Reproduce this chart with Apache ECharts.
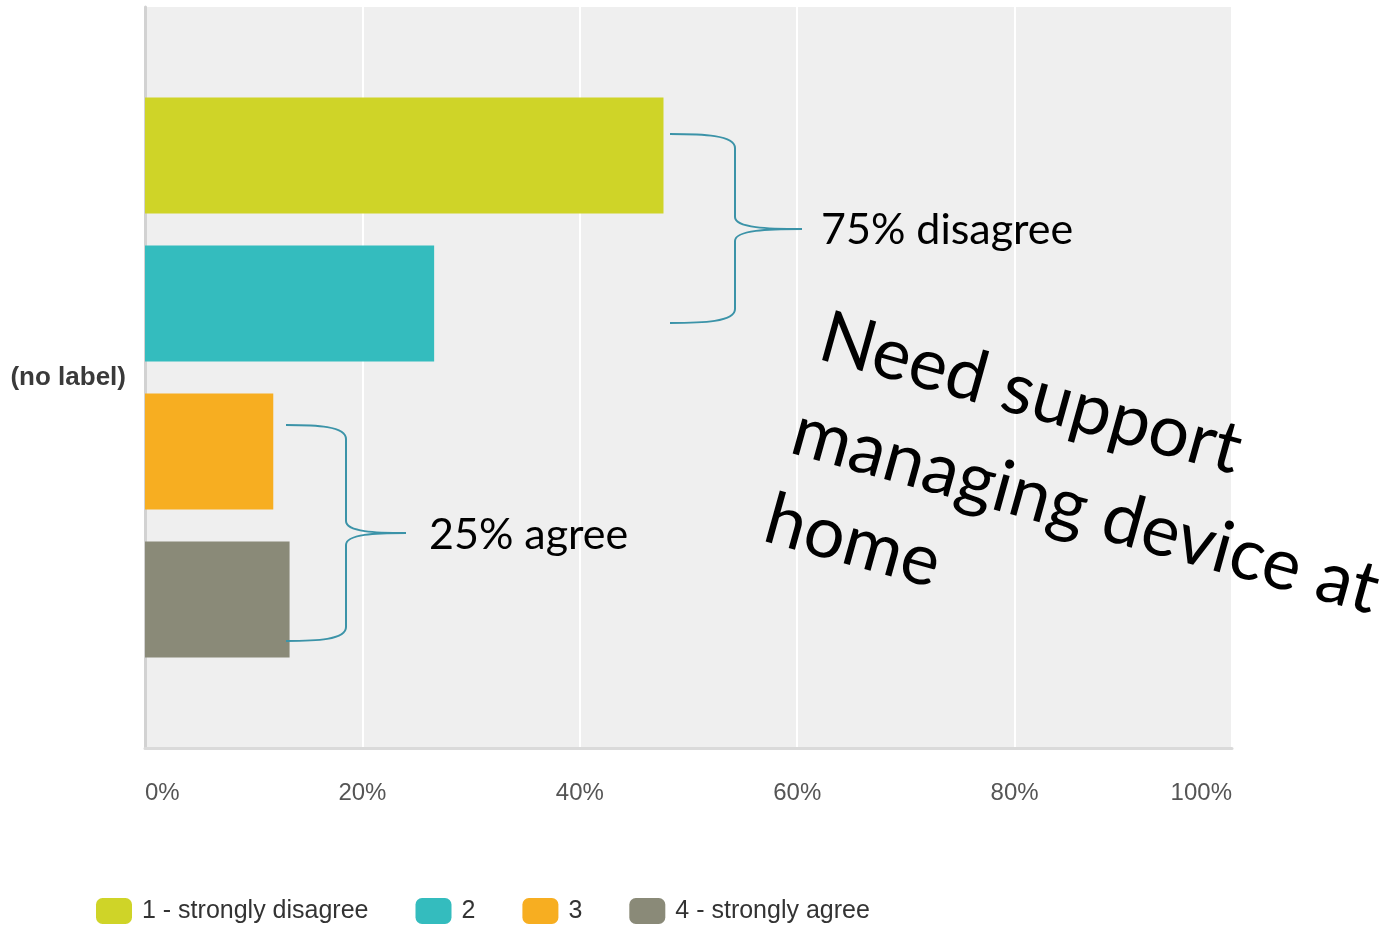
<!DOCTYPE html>
<html>
<head>
<meta charset="utf-8">
<title>Need support managing device at home</title>
<script src="https://cdn.jsdelivr.net/npm/echarts@6/dist/echarts.min.js"></script>
<style>
  html, body { margin: 0; padding: 0; background: #ffffff; }
  #chart { width: 1392px; height: 926px; }
</style>
</head>
<body>
<div id="chart"></div>
<script>
// Survey answers for a single question, share of respondents (%)
const categories = ['(no label)'];
const seriesNames = ['1 - strongly disagree', '2', '3', '4 - strongly agree'];
const stronglyDisagree = [47.7];
const disagree = [26.6];
const agree = [11.8];
const stronglyAgree = [13.3];
const seriesValues = [stronglyDisagree, disagree, agree, stronglyAgree];
const seriesColors = ['#cfd428', '#34bcbe', '#f7ae21', '#8a8a78'];
const xTicks = { min: 0, max: 100, interval: 20 };

const sansFont = '"Liberation Sans", Arial, sans-serif';
const noteFont = 'Lato, "Open Sans", sans-serif';
const braceColor = '#3b93a8';

const chart = echarts.init(document.getElementById('chart'), null, { renderer: 'canvas' });

// a right-facing curly brace: open ends at x0, spine at xs, point at xt
function brace(x0, xs, xt, yTop, yMid, yBot) {
  const st = { stroke: braceColor, lineWidth: 2, fill: null };
  const r = 7;
  const curve = (x1, y1, x2, y2, c1x, c1y, c2x, c2y) => ({
    type: 'bezierCurve', z: 10, style: st,
    shape: { x1, y1, x2, y2, cpx1: c1x, cpy1: c1y, cpx2: c2x, cpy2: c2y }
  });
  const line = (x1, y1, x2, y2) => ({ type: 'line', z: 10, style: st, shape: { x1, y1, x2, y2 } });
  return [
    curve(x0, yTop, xs, yTop + 2 * r, (x0 + xs) / 2, yTop, xs, yTop + 1),
    line(xs, yTop + 2 * r, xs, yMid - 2 * r + 2),
    curve(xs, yMid - 2 * r + 2, xt, yMid, xs, yMid - 1, (xs + xt) / 2, yMid),
    curve(xt, yMid, xs, yMid + 2 * r - 2, (xs + xt) / 2, yMid, xs, yMid + 1),
    line(xs, yMid + 2 * r - 2, xs, yBot - 2 * r),
    curve(xs, yBot - 2 * r, x0, yBot, xs, yBot - 1, (x0 + xs) / 2, yBot)
  ];
}

// rotated headline, one text element per line
const tilt = -15.5 * Math.PI / 180;
const headline = [
  { text: 'Need support', x: 822, y: 336 },
  { text: 'managing device at', x: 794, y: 430 },
  { text: 'home', x: 767, y: 518 }
];

const graphics = []
  .concat(brace(670, 735, 802, 134, 229, 323))
  .concat(brace(286, 346, 406, 425, 533, 641))
  .concat([
    { type: 'text', x: 821, y: 230, z: 10,
      style: { text: '75% disagree', font: '43px ' + noteFont, fill: '#000', align: 'left', verticalAlign: 'middle' } },
    { type: 'text', x: 429, y: 535, z: 10,
      style: { text: '25% agree', font: '43px ' + noteFont, fill: '#000', align: 'left', verticalAlign: 'middle' } }
  ])
  .concat(headline.map(l => ({
    type: 'text', x: l.x, y: l.y, rotation: tilt, z: 10,
    style: { text: l.text, font: '72px ' + noteFont, fill: '#000', align: 'left', verticalAlign: 'middle' }
  })));

chart.setOption({
  animation: false,
  backgroundColor: '#ffffff',
  grid: {
    left: 145, right: 160, top: 7, bottom: 178,
    show: true, backgroundColor: '#efefef', borderWidth: 0
  },
  legend: {
    left: 96, top: 898, padding: 0,
    itemWidth: 36, itemHeight: 26, itemGap: 47,
    icon: 'roundRect',
    data: seriesNames,
    textStyle: { fontFamily: sansFont, fontSize: 25, color: '#333', padding: [0, 0, 0, 5] }
  },
  xAxis: {
    type: 'value',
    min: xTicks.min, max: xTicks.max, interval: xTicks.interval,
    axisLine: { show: true, onZero: false, lineStyle: { color: '#dadada', width: 3 } },
    axisTick: { show: false },
    splitLine: { show: true, lineStyle: { color: '#ffffff', width: 2 } },
    axisLabel: {
      formatter: '{value}%', fontFamily: sansFont, fontSize: 24, color: '#555',
      margin: 33, alignMinLabel: 'left', alignMaxLabel: 'right'
    }
  },
  yAxis: {
    type: 'category',
    data: categories,
    inverse: true,
    axisLine: { show: true, lineStyle: { color: '#d2d2d2', width: 3 } },
    axisTick: { show: false },
    axisLabel: { fontFamily: sansFont, fontSize: 26, fontWeight: 'bold', color: '#3a3a3a', margin: 19 }
  },
  series: seriesNames.map((name, i) => ({
    name: name,
    type: 'bar',
    data: seriesValues[i],
    barWidth: 116,
    barGap: '27.6%',
    itemStyle: { color: seriesColors[i] }
  })),
  graphic: { elements: graphics }
});
</script>
</body>
</html>
